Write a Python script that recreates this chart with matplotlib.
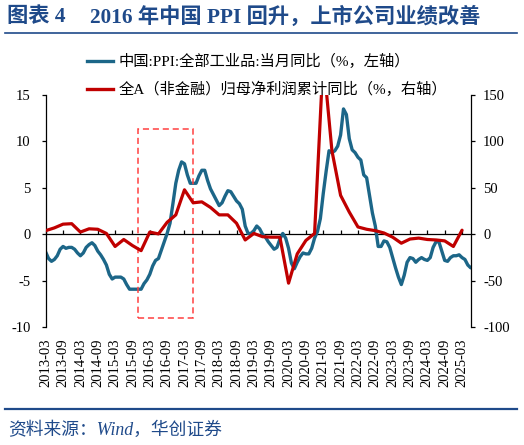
import numpy as np
import pandas as pd
import matplotlib
matplotlib.use('Agg')
import matplotlib.pyplot as plt
from matplotlib.patches import Rectangle
from matplotlib.lines import Line2D

plt.rcParams['font.family'] = ['Liberation Serif', 'Noto Sans CJK SC']
plt.rcParams['axes.unicode_minus'] = False

# 月度类目 2013-03 ~ 2025-06
months = pd.period_range('2013-03', '2025-06', freq='M').strftime('%Y-%m').tolist()

# 中国 PPI 全部工业品 当月同比（%）
ppi = [-1.9, -2.6, -2.9, -2.7, -2.3, -1.6, -1.3, -1.5, -1.4, -1.4,
       -1.6, -2.0, -2.3, -2.0, -1.4, -1.1, -0.9, -1.2, -1.8, -2.2, -2.7, -3.3,
       -4.3, -4.8, -4.6, -4.6, -4.6, -4.8, -5.4, -5.9, -5.9, -5.9, -5.9, -5.9,
       -5.3, -4.9, -4.3, -3.4, -2.8, -2.6, -1.7, -0.8, 0.1, 1.2, 3.3, 5.5,
       6.9, 7.8, 7.6, 6.4, 5.5, 5.5, 5.5, 6.3, 6.9, 6.9, 5.8, 4.9,
       4.3, 3.7, 3.1, 3.4, 4.1, 4.7, 4.6, 4.1, 3.6, 3.3, 2.7, 0.9,
       0.1, 0.1, 0.4, 0.9, 0.6, 0.0, -0.3, -0.8, -1.2, -1.6, -1.4, -0.5,
       0.1, -0.4, -1.5, -3.1, -3.7, -3.0, -2.4, -2.0, -2.1, -2.1, -1.5, -0.4,
       0.3, 1.7, 4.4, 6.8, 9.0, 8.8, 9.0, 9.5, 10.7, 13.5, 12.9, 10.3,
       9.1, 8.8, 8.3, 8.0, 6.4, 6.1, 4.2, 2.3, 0.9, -1.3, -1.3, -0.7,
       -0.8, -1.4, -2.5, -3.6, -4.6, -5.4, -4.4, -3.0, -2.5, -2.6, -3.0, -2.7,
       -2.5, -2.7, -2.8, -2.5, -1.4, -0.8, -0.8, -1.8, -2.8, -2.9, -2.5, -2.3,
       -2.3, -2.2, -2.5, -2.7, -3.3, -3.6]

# 全A（非金融）归母净利润累计同比（%），季度
quarters = pd.period_range('2013-03', '2025-03', freq='3M').strftime('%Y-%m').tolist()
profit = [4, 7, 11, 11.5, 2.5, 6, 5.5, 1,
          -13, -5.5, -12, -17.5, 2.5, 0.5, 13, 21,
          48, 34, 35, 29, 21, 21, 12, -6,
          1, -2.5, -3, -3, -52.5, -21, -6.5, 1,
          190, 90, 42, 24, 8, 5.5, 4, 1.5,
          -3, -9.5, -5, -4, -5.5, -6, -7, -13,
          4.5]

label_ppi = '中国:PPI:全部工业品:当月同比（%，左轴）'
label_profit = '全A（非金融）归母净利润累计同比（%，右轴）'

blue = '#1C6688'
red = '#C00000'
navy = '#1F4A8A'

x_ppi = np.arange(len(ppi))
x_profit = [months.index(q) for q in quarters]
tick_pos = list(range(0, len(months), 6))
tick_lab = [months[i] for i in tick_pos]

fig = plt.figure(figsize=(5.24, 4.45), dpi=100)
ax = fig.add_axes([0.0872, 0.2645, 0.8111, 0.522])
ax2 = ax.twinx()

ax.plot(x_ppi, ppi, color=blue, lw=2.4, solid_capstyle='round')
ax2.plot(x_profit, profit, color=red, lw=2.3, solid_capstyle='round')

ax.set_xlim(0, len(months) - 1)
ax.set_ylim(-10, 15)
ax.set_yticks(range(-10, 16, 5))
ax2.set_ylim(-100, 150)
ax2.set_yticks(range(-100, 151, 50))

for a in (ax, ax2):
    a.spines['top'].set_visible(False)
    a.spines['bottom'].set_visible(False)
    for s in ('left', 'right'):
        a.spines[s].set_linewidth(0.9)
ax.spines['right'].set_visible(False)
ax2.spines['left'].set_visible(False)

ax.tick_params(axis='y', direction='out', length=3, width=0.9, pad=8, labelsize=10.5)
ax2.tick_params(axis='y', direction='out', length=3, width=0.9, pad=6, labelsize=10.5)

ax.set_xticks(tick_pos)
ax.set_xticklabels(tick_lab, rotation=90, fontsize=10.5)
ax.tick_params(axis='x', length=0, pad=8)

# 零轴 + 刻度
zero = ax.secondary_xaxis(0.4)
zero.set_xticks(tick_pos)
zero.tick_params(axis='x', direction='in', length=3, width=0.9, labelbottom=False, labeltop=False)
zero.spines['bottom'].set_linewidth(0.9)

# 2016 红色虚线框
box_x = (31.8, 50.8)
box_y = (-9.0, 11.3)
ax.add_patch(Rectangle((box_x[0], box_y[0]), box_x[1] - box_x[0], box_y[1] - box_y[0],
                       fill=False, edgecolor='#FF4040', lw=1.1, ls=(0, (4, 2.5)), zorder=5))

handles = [Line2D([], [], color=blue, lw=2.4), Line2D([], [], color=red, lw=2.4)]
fig.legend(handles, [label_ppi, label_profit], loc='upper left',
           bbox_to_anchor=(0.166, 0.879), frameon=False, fontsize=11,
           handlelength=1.7, handletextpad=0.35, labelspacing=0.85,
           borderpad=0, borderaxespad=0)

fig.text(0.013, 0.962, '图表 4', color=navy, fontsize=15.3, fontweight='bold',
         va='center', ha='left')
fig.text(0.172, 0.962, '2016 年中国 PPI 回升，上市公司业绩改善',
         color=navy, fontsize=15.3, fontweight='bold', va='center', ha='left')
fig.add_artist(Line2D([0.01, 0.987], [0.926, 0.926], color=navy, lw=1.2))
fig.add_artist(Line2D([0.01, 0.987], [0.081, 0.081], color=navy, lw=1.6))
fig.text(0.015, 0.034, '资料来源：Wind，华创证券', color=navy, fontsize=12.8,
         style='italic', va='center', ha='left')

fig.savefig('out.png', dpi=100)
